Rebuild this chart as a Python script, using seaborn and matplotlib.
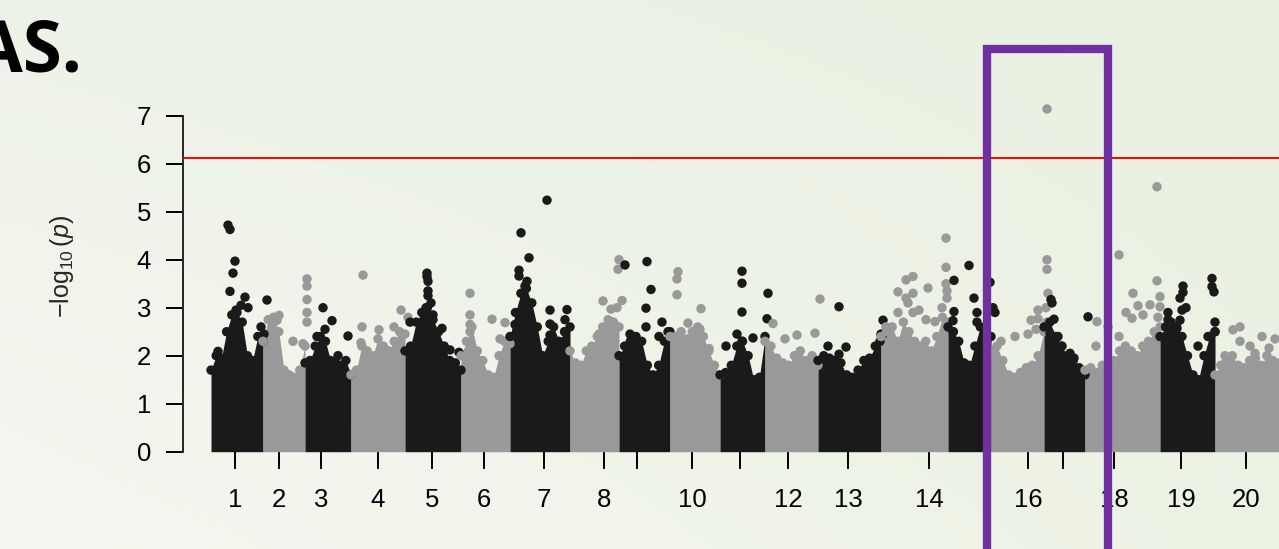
import numpy as np
import pandas as pd
import matplotlib
matplotlib.use("Agg")
import matplotlib.pyplot as plt
import seaborn as sns
from matplotlib.lines import Line2D
from matplotlib.transforms import blended_transform_factory

# ---- genome layout -------------------------------------------------------
chromosomes = list(range(1, 21))
chrom_len = [52, 42, 46, 54, 56, 49, 60, 49, 51, 50, 45, 53, 63, 67, 43, 53, 41, 75, 55, 75]
# mean SNP position per chromosome (Mb from its start), used for the axis labels
label_pos = [24, 16, 16, 27, 27, 23, 34, 34, 18, 22, 20, 23, 30, 48, 39, 37, 19, 29, 21, 31]
tick_labels = ["1", "2", "3", "4", "5", "6", "7", "8", "", "10", "", "12", "13", "14",
               "", "16", "", "18", "19", "20"]

# ---- association results -------------------------------------------------
# upper edge of the dense cloud of background SNPs, sampled evenly along each chromosome
bulk_top = {
    1: [1.7, 2.0, 1.95, 2.5, 2.85, 2.9, 2.7, 2.0, 1.9, 2.4, 2.3],
    2: [2.3, 2.75, 2.8, 2.5, 1.7, 1.6, 1.55, 1.7, 2.2],
    3: [1.85, 1.9, 2.2, 2.4, 2.3, 1.9, 1.85, 1.8, 1.9, 1.6],
    4: [1.6, 1.7, 2.2, 2.1, 2.0, 2.35, 2.2, 2.1, 2.3, 2.5, 2.45],
    5: [2.1, 2.2, 2.7, 2.9, 3.0, 2.75, 2.5, 2.2, 1.9, 1.85, 1.7],
    6: [2.0, 2.3, 2.6, 2.1, 1.9, 1.6, 1.55, 2.0, 2.3, 2.25],
    7: [2.4, 2.9, 3.3, 3.4, 3.1, 2.6, 2.0, 2.3, 2.6, 2.3, 2.5, 2.6],
    8: [2.1, 1.85, 1.8, 2.1, 2.2, 2.4, 2.6, 2.75, 2.7, 2.6],
    9: [2.0, 2.2, 2.3, 2.4, 2.3, 1.8, 1.6, 1.8, 2.3, 2.5],
    10: [2.4, 2.4, 2.5, 2.35, 2.5, 2.6, 2.4, 2.1, 1.8, 1.6],
    11: [1.6, 1.65, 1.8, 2.2, 2.3, 2.0, 1.5, 1.55, 2.4],
    12: [2.3, 2.2, 1.95, 1.85, 1.8, 2.0, 2.1, 1.9, 2.0, 1.8],
    13: [1.9, 2.0, 1.95, 1.9, 1.85, 1.6, 1.55, 1.7, 1.9, 1.95, 2.2, 2.45],
    14: [2.4, 2.5, 2.6, 2.3, 2.7, 2.5, 2.3, 2.2, 2.3, 2.1, 2.4, 2.8, 2.7],
    15: [2.6, 2.5, 2.3, 1.85, 1.8, 2.2, 2.6, 2.5, 2.4],
    16: [2.1, 2.2, 1.9, 1.6, 1.55, 1.65, 1.75, 1.8, 2.0, 2.5],
    17: [2.6, 2.7, 2.4, 2.2, 2.0, 1.9, 1.75, 1.6],
    18: [1.7, 1.75, 1.65, 1.8, 1.7, 1.9, 2.1, 2.2, 2.1, 2.0, 2.2, 2.3, 2.5, 2.6],
    19: [2.4, 2.6, 2.7, 2.6, 2.4, 2.0, 1.6, 1.5, 2.0, 2.4, 2.5],
    20: [1.6, 1.8, 1.9, 2.0, 1.8, 1.75, 1.9, 1.95, 1.8, 2.0, 1.9, 1.85, 1.8, 1.8],
}

# SNPs standing out above the cloud: (Mb from chromosome start, -log10 p)
top_snps = {
    1: [(17, 4.72), (19, 4.63), (24, 3.97), (22, 3.72), (19, 3.34), (34, 3.22), (56, 3.16),
        (7, 2.09), (30, 3.05), (37, 3.0), (25, 2.95), (50, 2.6), (53, 2.45)],
    2: [(44, 3.6), (44, 3.45), (44, 3.17), (44, 2.9), (44, 2.7), (30, 2.3), (40, 2.25),
        (16, 2.84), (14, 2.74), (10, 2.65)],
    3: [(18, 3.0), (27, 2.73), (12, 2.4), (43, 2.41), (33, 2.0), (20, 2.55)],
    4: [(12, 3.68), (11, 2.6), (28, 2.54), (43, 2.6), (50, 2.95), (57, 2.8), (10, 2.27)],
    5: [(22, 3.72), (22, 3.65), (23, 3.55), (23, 3.35), (23, 3.25), (21, 3.0), (5, 2.7),
        (37, 2.57), (45, 2.12), (54, 2.07), (28, 2.85), (26, 3.1)],
    6: [(9, 3.3), (9, 2.85), (9, 2.65), (9, 2.5), (31, 2.76), (44, 2.69), (39, 2.35)],
    7: [(11, 4.56), (19, 4.04), (9, 3.78), (9, 3.66), (37, 5.24), (40, 2.95), (57, 2.96),
        (40, 2.66), (40, 2.43), (55, 2.75), (55, 2.5), (15, 3.45), (17, 3.55), (5, 2.65)],
    8: [(29, 2.45), (33, 3.14), (49, 4.0), (48, 3.8), (52, 3.15), (41, 2.97), (47, 3.0),
        (42, 2.7)],
    9: [(6, 3.89), (28, 3.96), (32, 3.38), (27, 2.99), (27, 2.6), (43, 2.7), (49, 2.5),
        (40, 2.4), (11, 2.45)],
    10: [(8, 3.75), (7, 3.6), (7, 3.27), (18, 2.68), (31, 2.98), (30, 2.55), (39, 2.15)],
    11: [(22, 3.76), (22, 3.51), (22, 2.91), (17, 2.45), (22, 2.3), (33, 2.37), (48, 3.3),
         (47, 2.77), (6, 2.2)],
    12: [(8, 2.67), (55, 3.18), (32, 2.43), (50, 2.47), (20, 2.35)],
    13: [(10, 2.2), (21, 3.02), (28, 2.18), (21, 2.03), (65, 2.74), (65, 2.45), (62, 2.3)],
    14: [(17, 3.33), (25, 3.58), (32, 3.65), (32, 3.3), (25, 3.2), (27, 3.1), (47, 3.41),
         (17, 2.9), (32, 2.9), (54, 2.71), (65, 4.45), (65, 3.84), (65, 3.5), (66, 3.35),
         (66, 3.2), (61, 3.0), (45, 2.75), (38, 2.95), (5, 2.6)],
    15: [(6, 3.57), (21, 3.88), (6, 2.92), (5, 2.73), (5, 2.5), (26, 3.2), (29, 2.9),
         (29, 2.7), (47, 2.9), (42, 3.53), (45, 3.0)],
    16: [(56, 7.14), (56, 4.0), (56, 3.8), (57, 3.3), (24, 2.4), (37, 2.45), (10, 2.3),
         (47, 2.95), (47, 2.77), (40, 2.74), (45, 2.55), (55, 3.0), (56, 2.7)],
    17: [(7, 3.17), (8, 3.1), (10, 2.76), (6, 2.46), (14, 2.4), (11, 2.3), (18, 2.2),
         (26, 2.05), (30, 1.95), (44, 2.81)],
    18: [(12, 2.71), (34, 4.1), (48, 3.3), (53, 3.04), (65, 3.06), (47, 2.78), (72, 3.56),
         (75, 3.23), (75, 3.02), (73, 2.8), (72, 5.52), (34, 2.4), (11, 2.2), (23, 2.6),
         (41, 2.9), (58, 2.85)],
    19: [(23, 3.45), (23, 3.32), (20, 3.2), (22, 2.95), (20, 2.74), (17, 2.57), (8, 2.9),
         (8, 2.75), (38, 2.2), (52, 3.61), (52, 3.44), (54, 3.33), (55, 2.7), (55, 2.5),
         (48, 2.4), (26, 3.0)],
    20: [(18, 2.54), (25, 2.6), (25, 2.3), (47, 2.4), (54, 2.16), (40, 2.05), (10, 2.0),
         (35, 2.2), (60, 2.35)],
}

threshold = 6.11                 # genome-wide significance, -log10 p
highlight = (775.7, 896.5)       # highlighted region on the cumulative genome axis (Mb)
view = (-28, 1068)               # visible genome window (Mb)

# ---- styling -------------------------------------------------------------
sns.set_style("ticks")
plt.rcParams["font.family"] = ["Liberation Sans", "DejaVu Sans"]
plt.rcParams["mathtext.fontset"] = "custom"
plt.rcParams["mathtext.rm"] = "Liberation Sans"
plt.rcParams["mathtext.it"] = "Liberation Sans:italic"

shade_colors = {"odd": "#1A1A1A", "even": "#999999"}

W, H = 1279, 549
fig = plt.figure(figsize=(W / 100, H / 100), dpi=100)

# soft slide background
bg = fig.add_axes([0, 0, 1, 1], zorder=-1)
corner_tl = np.array([237, 242, 231]) / 255
corner_tr = np.array([233, 240, 225]) / 255
corner_bl = np.array([245, 247, 240]) / 255
corner_br = np.array([236, 242, 228]) / 255
gy, gx = np.mgrid[0:1:60j, 0:1:120j]
gx, gy = gx[..., None], gy[..., None]
bg_img = (corner_tl * (1 - gx) * (1 - gy) + corner_tr * gx * (1 - gy)
          + corner_bl * (1 - gx) * gy + corner_br * gx * gy)
bg.imshow(bg_img, aspect="auto", extent=[0, 1, 0, 1], interpolation="bilinear")
bg.set_axis_off()

ax = fig.add_axes([183 / W, 97.3 / H, (W - 183) / W, 384 / H])
ax.set_facecolor("none")

starts = np.concatenate([[0], np.cumsum(chrom_len)[:-1]])

rows = []
for i, c in enumerate(chromosomes):
    shade = "odd" if i % 2 == 0 else "even"
    env = np.asarray(bulk_top[c], dtype=float)
    xs = starts[i] + np.linspace(0, chrom_len[i], len(env))
    ax.fill_between(xs, 0, env, color=shade_colors[shade], lw=0, zorder=1)
    rows += [(x, y, shade) for x, y in zip(xs, env)]
    rows += [(starts[i] + off, y, shade) for off, y in top_snps[c]]

snps = pd.DataFrame(rows, columns=["pos", "logp", "shade"])
sns.scatterplot(data=snps, x="pos", y="logp", hue="shade", palette=shade_colors,
                s=46, linewidth=0, legend=False, ax=ax, zorder=2)

ax.axhline(threshold, color="red", lw=1.4, zorder=3)

ax.set_xlim(*view)
ax.set_ylim(0, 8)
ax.set_yticks(range(0, 8))
ax.set_xticks(starts + np.asarray(label_pos))
ax.set_xticklabels(tick_labels)
ax.set_xlabel("")
ax.set_ylabel("")
for side in ("top", "right", "bottom"):
    ax.spines[side].set_visible(False)
ax.spines["left"].set_bounds(0, 7)
ax.spines["left"].set_linewidth(1.4)
ax.tick_params(axis="both", length=12, width=1.4, labelsize=18.5, color="black",
               labelcolor="black")
ax.tick_params(axis="x", pad=14)
ax.tick_params(axis="y", pad=11)

fig.text(62 / W, 1 - 267 / H, r"$-\log_{10}(\mathit{p})$", rotation=90,
         ha="center", va="center", fontsize=18)

fig.text(83 / W, 1 - 72 / H, "GWAS.", ha="right", va="baseline",
         fontsize=51, fontweight="bold", fontstyle="normal",
         family=["Open Sans", "DejaVu Sans"], color="black")

# highlight box around the chromosome 16-17 signal
box_tr = blended_transform_factory(ax.transData, fig.transFigure)
y_top = 1 - 48.5 / H
fig.add_artist(Line2D([highlight[0], highlight[0], highlight[1], highlight[1]],
                      [-0.05, y_top, y_top, -0.05], transform=box_tr,
                      color="#7030A0", lw=6, solid_joinstyle="miter",
                      solid_capstyle="butt", zorder=10))

fig.savefig("out.png", dpi=100)
